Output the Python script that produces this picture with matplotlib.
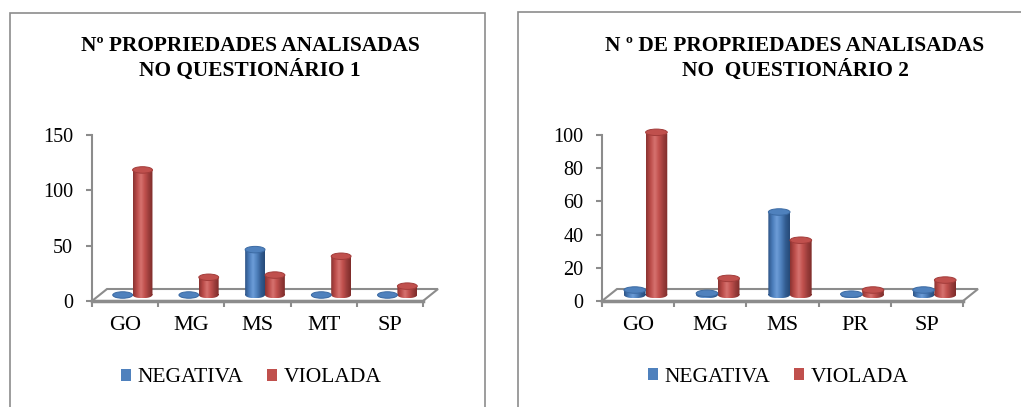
import matplotlib
matplotlib.use("Agg")
import matplotlib.pyplot as plt
import numpy as np
from matplotlib.patches import Rectangle, Ellipse, PathPatch, Polygon, Patch
from matplotlib.path import Path
from matplotlib.transforms import ScaledTranslation
from matplotlib.colors import LinearSegmentedColormap

plt.rcParams['font.family'] = ['Liberation Serif', 'DejaVu Serif']

series = ['NEGATIVA', 'VIOLADA']
colors = ['#4f81bd', '#c0504d']

title_q1 = 'Nº PROPRIEDADES ANALISADAS\nNO QUESTIONÁRIO 1'
states_q1 = ['GO', 'MG', 'MS', 'MT', 'SP']
negativa_q1 = [0, 0, 41, 0, 0]
violada_q1 = [113, 16, 18, 35, 8]
yticks_q1 = [0, 50, 100, 150]

title_q2 = 'N º DE PROPRIEDADES ANALISADAS\nNO  QUESTIONÁRIO 2'
states_q2 = ['GO', 'MG', 'MS', 'PR', 'SP']
negativa_q2 = [3, 1, 50, 0.5, 3]
violada_q2 = [98, 10, 33, 3, 9]
yticks_q2 = [0, 20, 40, 60, 80, 100]

W, H = 1021, 407
GRAY = '#8c8c8c'

# shading for the cylinder body: dark edges, highlight left of centre
shades = {
    '#4f81bd': ['#2e5486', '#4a7cba', '#6d9dd8', '#4f81bd', '#335d92', '#264a78'],
    '#c0504d': ['#8a3331', '#bb4c49', '#d6726f', '#c0504d', '#9a3d3b', '#7e2c2a'],
}
edge_col = {'#4f81bd': '#3b6aa3', '#c0504d': '#a23c3a'}

fig = plt.figure(figsize=(W / 100, H / 100), dpi=100)


def px_axes(left, top, right, bottom):
    return fig.add_axes([left / W, 1 - bottom / H, (right - left) / W, (bottom - top) / H])


def cylinder(ax, xc, val, width, color, eh, shift):
    tr = ax.transData + shift
    x0 = xc - width / 2
    body = Rectangle((x0, 0), width, val)
    base = Ellipse((xc, 0), width, eh)
    clip = Path.make_compound_path(
        body.get_patch_transform().transform_path(body.get_path()),
        base.get_patch_transform().transform_path(base.get_path()))
    clip_patch = PathPatch(clip, transform=tr, facecolor='none', edgecolor='none')
    ax.add_patch(clip_patch)
    cmap = LinearSegmentedColormap.from_list('cyl', shades[color])
    grad = np.linspace(0, 1, 64).reshape(1, -1)
    im = ax.imshow(grad, cmap=cmap, extent=(x0, x0 + width, -eh / 2, val),
                   aspect='auto', transform=tr, interpolation='bilinear', zorder=3)
    im.set_clip_path(clip_patch)
    im.set_clip_box(None)
    ax.add_patch(Ellipse((xc, val), width, eh, transform=tr, facecolor=color,
                         edgecolor=edge_col[color], lw=0.7, zorder=4, clip_on=False))


def panel(box, ymax, yticks, states, negativa, violada, title, title_xy, legend_xy, frame):
    left, top, right, bottom = box
    ax = px_axes(left, top, right, bottom)
    n = len(states)
    ax.set_xlim(0, n)
    ax.set_ylim(0, ymax)
    ppx = (right - left) / n          # pixels per category
    ppu = (bottom - top) / ymax       # pixels per value unit
    depth_x, depth_y = 15, 12         # floor depth in pixels

    # floor slab
    ddx, ddy = depth_x / ppx, depth_y / ppu
    ax.add_patch(Polygon([(0, 0), (n, 0), (n + ddx, ddy), (ddx, ddy)], closed=True,
                         facecolor='white', edgecolor=GRAY, lw=1.5, clip_on=False, zorder=1))

    shift = ScaledTranslation(depth_x / 2 / 100, depth_y / 2 / 100, fig.dpi_scale_trans)
    bw = 0.30
    eh = 6.5 / ppu
    for i in range(n):
        xc = i + 0.5
        cylinder(ax, xc - bw / 2, negativa[i], bw, colors[0], eh, shift)
        cylinder(ax, xc + bw / 2, violada[i], bw, colors[1], eh, shift)
    ax.set_xlim(0, n)
    ax.set_ylim(0, ymax)

    for s in ['top', 'right']:
        ax.spines[s].set_visible(False)
    for s in ['left', 'bottom']:
        ax.spines[s].set_color(GRAY)
    ax.spines['left'].set_linewidth(1.5)
    ax.spines['bottom'].set_linewidth(2.5)
    ax.set_yticks(yticks)
    ax.tick_params(axis='y', direction='out', length=4.5, width=1.5, color=GRAY,
                   labelsize=14.5, pad=9)
    ax.set_xticks(np.arange(n + 1))
    ax.set_xticklabels([])
    ax.set_xticks(np.arange(n) + 0.5, minor=True)
    ax.set_xticklabels(states, minor=True)
    ax.tick_params(axis='x', which='major', direction='out', length=4, width=1.5, color=GRAY)
    ax.tick_params(axis='x', which='minor', length=0, labelsize=16, pad=11)
    ax.patch.set_visible(False)

    fig.text(title_xy[0] / W, 1 - title_xy[1] / H, title, ha='center', va='center',
             fontsize=15.4, fontweight='bold', linespacing=1.2)

    handles = [Patch(facecolor=c, edgecolor='none') for c in colors]
    ax.legend(handles, series, loc='center', bbox_to_anchor=(legend_xy[0] / W, 1 - legend_xy[1] / H),
              bbox_transform=fig.transFigure, ncol=2, frameon=False, fontsize=15.5,
              handlelength=0.47, handleheight=0.47, handletextpad=0.3, columnspacing=1.1)

    fl, ft, fr = frame
    fig.add_artist(Rectangle((fl / W, -0.05), (fr - fl) / W, 1 - ft / H + 0.05,
                             transform=fig.transFigure, fill=False, edgecolor=GRAY, lw=1.2))


panel((92, 135, 423, 301), 150, yticks_q1, states_q1, negativa_q1, violada_q1,
      title_q1, (250, 58.5), (251, 378), (10, 13, 485))
panel((602, 135, 963, 301), 100, yticks_q2, states_q2, negativa_q2, violada_q2,
      title_q2, (795, 58.5), (778, 377), (518, 12, 1040))

fig.savefig('out.png', dpi=100)
